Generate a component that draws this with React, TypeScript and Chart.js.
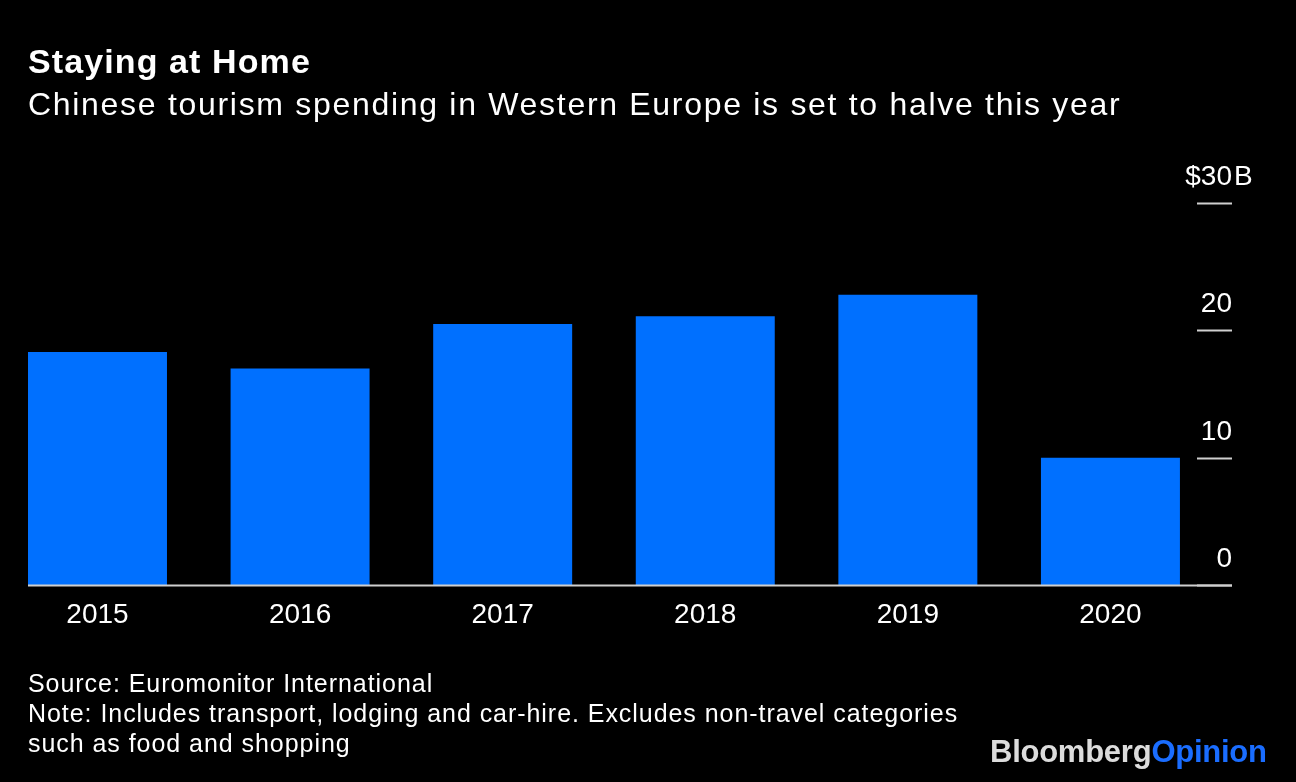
import React, { useEffect, useRef } from "react";
import { Chart, registerables } from "chart.js";

Chart.register(...registerables);

const YEARS = [2015, 2016, 2017, 2018, 2019, 2020];
const SPENDING = [18.3, 17.0, 20.5, 21.1, 22.8, 10.0];
const Y_TICKS = [0, 10, 20, 30];
const Y_TICK_LABELS = ["0", "10", "20", "30"];
const Y_PREFIX = "$";
const Y_SUFFIX = "B";

const TITLE = "Staying at Home";
const SUBTITLE = "Chinese tourism spending in Western Europe is set to halve this year";
const SOURCE = "Source: Euromonitor International";
const NOTE_LINES = [
  "Note: Includes transport, lodging and car-hire. Excludes non-travel categories",
  "such as food and shopping",
];

const FONT = "'Liberation Sans', Arial, Helvetica, sans-serif";
const BAR_BLUE = "#0070ff";
const AXIS_GRAY = "#cfcfcf";

const axisPlugin = {
  id: "bbgAxis",
  afterDatasetsDraw(chart: any) {
    const { ctx, chartArea, scales } = chart;
    const y = scales.y;
    ctx.save();
    ctx.strokeStyle = AXIS_GRAY;
    ctx.lineWidth = 2;
    const y0 = y.getPixelForValue(0);
    ctx.beginPath();
    ctx.moveTo(chartArea.left, y0 + 0.5);
    ctx.lineTo(chartArea.right, y0 + 0.5);
    ctx.stroke();
    ctx.font = `28px ${FONT}`;
    ctx.fillStyle = "#ffffff";
    ctx.textBaseline = "alphabetic";
    Y_TICKS.forEach((v, i) => {
      const py = Math.round(y.getPixelForValue(v)) + 0.5;
      ctx.beginPath();
      ctx.moveTo(chartArea.right - 35, py);
      ctx.lineTo(chartArea.right, py);
      ctx.stroke();
      const label = Y_TICK_LABELS[i];
      ctx.textAlign = "right";
      ctx.fillText(label, chartArea.right, py - 19);
      if (i === Y_TICKS.length - 1) {
        const w = ctx.measureText(label).width;
        ctx.fillText(Y_PREFIX, chartArea.right - w, py - 19);
        ctx.textAlign = "left";
        ctx.fillText(Y_SUFFIX, chartArea.right + 2, py - 19);
      }
    });
    ctx.restore();
  },
};

export default function App() {
  const canvasRef = useRef<HTMLCanvasElement | null>(null);

  useEffect(() => {
    if (!canvasRef.current) return;
    const chart = new Chart(canvasRef.current, {
      type: "bar",
      data: {
        datasets: [
          {
            data: YEARS.map((yr, i) => ({ x: yr, y: SPENDING[i] })),
            backgroundColor: BAR_BLUE,
            borderWidth: 0,
            categoryPercentage: 1,
            barPercentage: 0.686,
          },
        ],
      },
      options: {
        animation: false,
        responsive: false,
        maintainAspectRatio: false,
        layout: { padding: { left: 28, right: 64, top: 203, bottom: 157 } },
        plugins: {
          legend: { display: false },
          tooltip: { enabled: false },
          title: { display: false },
        },
        scales: {
          x: {
            type: "linear",
            offset: false,
            min: 2014.657,
            max: 2020.6,
            grid: { display: false, drawTicks: false, offset: false },
            border: { display: false },
            afterBuildTicks: (s: any) => {
              s.ticks = YEARS.map((v) => ({ value: v }));
            },
            afterFit: (s: any) => {
              s.height = 40;
            },
            ticks: {
              color: "#ffffff",
              font: { family: FONT, size: 28 },
              padding: 13,
              maxRotation: 0,
              autoSkip: false,
              callback: (v: any) => String(v),
            },
          },
          y: {
            display: false,
            min: 0,
            max: 30,
          },
        },
      },
      plugins: [axisPlugin],
    });
    return () => chart.destroy();
  }, []);

  const textBase: React.CSSProperties = {
    position: "absolute",
    left: 28,
    color: "#ffffff",
    fontFamily: FONT,
    whiteSpace: "nowrap",
    margin: 0,
  };

  return (
    <div
      style={{
        position: "absolute",
        left: 0,
        top: 0,
        width: 1296,
        height: 782,
        background: "#000000",
        overflow: "hidden",
      }}
    >
      <canvas
        ref={canvasRef}
        width={1296}
        height={782}
        style={{ position: "absolute", left: 0, top: 0, width: 1296, height: 782 }}
      />
      <div
        style={{
          ...textBase,
          top: 41,
          fontSize: 34,
          lineHeight: "40px",
          fontWeight: 700,
          letterSpacing: "1.1px",
        }}
      >
        {TITLE}
      </div>
      <div
        style={{
          ...textBase,
          top: 86,
          fontSize: 32,
          lineHeight: "36px",
          letterSpacing: "1.7px",
        }}
      >
        {SUBTITLE}
      </div>
      <div
        style={{
          ...textBase,
          top: 668,
          fontSize: 25,
          lineHeight: "30px",
          letterSpacing: "0.95px",
        }}
      >
        <div>{SOURCE}</div>
        {NOTE_LINES.map((l) => (
          <div key={l}>{l}</div>
        ))}
      </div>
      <div
        style={{
          position: "absolute",
          left: 990,
          top: 734,
          fontFamily: FONT,
          fontWeight: 700,
          fontSize: 31,
          lineHeight: "36px",
          letterSpacing: "-0.25px",
          whiteSpace: "nowrap",
        }}
      >
        <span style={{ color: "#dcdcdc" }}>Bloomberg</span>
        <span style={{ color: "#1a6dff" }}>Opinion</span>
      </div>
    </div>
  );
}
